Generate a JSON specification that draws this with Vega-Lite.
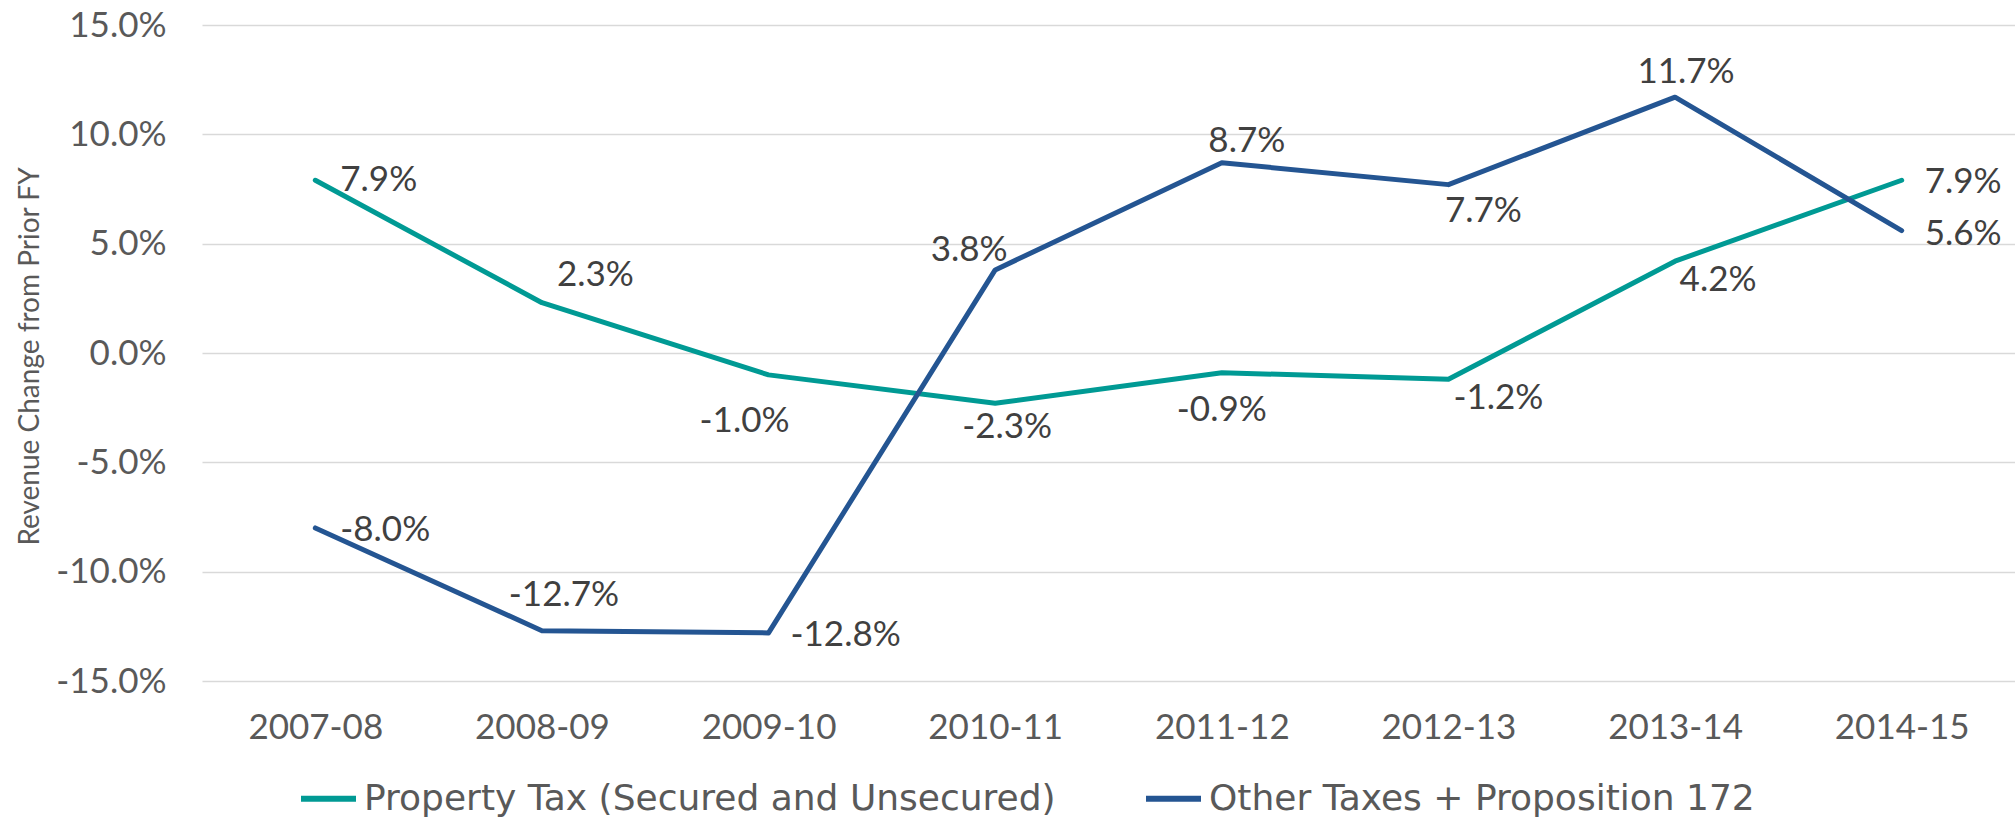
{
  "$schema": "https://vega.github.io/schema/vega-lite/v6.json",
  "width": 1813,
  "height": 656,
  "autosize": {"type": "none"},
  "padding": {"left": 202, "top": 25, "right": 0, "bottom": 138},
  "background": "white",
  "config": {
    "view": {"stroke": null},
    "font": "Lato",
    "axis": {"labelFont": "Lato", "titleFont": "Lato"},
    "legend": {"labelFont": "DejaVu Sans"}
  },
  "data": {
    "values": [
      {"year": "2007-08", "series": "Property Tax (Secured and Unsecured)", "value": 0.079},
      {"year": "2008-09", "series": "Property Tax (Secured and Unsecured)", "value": 0.023},
      {"year": "2009-10", "series": "Property Tax (Secured and Unsecured)", "value": -0.010},
      {"year": "2010-11", "series": "Property Tax (Secured and Unsecured)", "value": -0.023},
      {"year": "2011-12", "series": "Property Tax (Secured and Unsecured)", "value": -0.009},
      {"year": "2012-13", "series": "Property Tax (Secured and Unsecured)", "value": -0.012},
      {"year": "2013-14", "series": "Property Tax (Secured and Unsecured)", "value": 0.042},
      {"year": "2014-15", "series": "Property Tax (Secured and Unsecured)", "value": 0.079},
      {"year": "2007-08", "series": "Other Taxes + Proposition 172", "value": -0.080},
      {"year": "2008-09", "series": "Other Taxes + Proposition 172", "value": -0.127},
      {"year": "2009-10", "series": "Other Taxes + Proposition 172", "value": -0.128},
      {"year": "2010-11", "series": "Other Taxes + Proposition 172", "value": 0.038},
      {"year": "2011-12", "series": "Other Taxes + Proposition 172", "value": 0.087},
      {"year": "2012-13", "series": "Other Taxes + Proposition 172", "value": 0.077},
      {"year": "2013-14", "series": "Other Taxes + Proposition 172", "value": 0.117},
      {"year": "2014-15", "series": "Other Taxes + Proposition 172", "value": 0.056}
    ]
  },
  "transform": [
    {"calculate": "replace(format(datum.value, '.1%'), '\u2212', '-')", "as": "label"}
  ],
  "encoding": {
    "x": {
      "field": "year", "type": "ordinal",
      "scale": {"type": "point", "padding": 0.5},
      "axis": {
        "title": null, "labelAngle": 0, "labelFontSize": 35, "labelColor": "#595959",
        "domain": false, "ticks": false, "labelPadding": 29, "grid": false
      }
    },
    "y": {
      "field": "value", "type": "quantitative",
      "scale": {"domain": [-0.15, 0.15], "nice": false, "zero": false},
      "axis": {
        "title": "Revenue Change from Prior FY", "titleFontSize": 28, "titleFontWeight": "normal",
        "titleColor": "#595959", "titleX": -172, "titleY": 331, "titleAngle": -90,
        "titleAlign": "center", "titleBaseline": "middle",
        "values": [-0.15, -0.1, -0.05, 0, 0.05, 0.1, 0.15],
        "labelExpr": "replace(format(datum.value, '.1%'), '\u2212', '-')",
        "labelFontSize": 35, "labelColor": "#595959", "labelPadding": 36,
        "domain": false, "ticks": false,
        "grid": true, "gridColor": "#d9d9d9", "gridWidth": 1.5
      }
    }
  },
  "layer": [
    {
      "mark": {"type": "line", "strokeWidth": 5, "strokeJoin": "round", "strokeCap": "round"},
      "encoding": {
        "color": {
          "field": "series", "type": "nominal",
          "scale": {
            "domain": ["Property Tax (Secured and Unsecured)", "Other Taxes + Proposition 172"],
            "range": ["#009A94", "#245592"]
          },
          "legend": {
            "title": null, "orient": "none", "direction": "horizontal",
            "legendX": 96, "legendY": 743, "padding": 0,
            "symbolType": "stroke", "symbolSize": 3025, "symbolStrokeWidth": 6,
            "labelFontSize": 36, "labelColor": "#595959", "labelOffset": 5,
            "columnPadding": 78, "labelLimit": 1000
          }
        }
      }
    },
    {"transform": [{"filter": "datum.series[0]=='P' && datum.year=='2007-08'"}],
     "mark": {"type": "text", "fontSize": 35, "color": "#404040", "align": "left", "baseline": "middle", "dx": 25, "dy": 0},
     "encoding": {"text": {"field": "label"}}},
    {"transform": [{"filter": "datum.series[0]=='P' && datum.year=='2008-09'"}],
     "mark": {"type": "text", "fontSize": 35, "color": "#404040", "align": "left", "baseline": "middle", "dx": 15, "dy": -28},
     "encoding": {"text": {"field": "label"}}},
    {"transform": [{"filter": "datum.series[0]=='P' && datum.year=='2009-10'"}],
     "mark": {"type": "text", "fontSize": 35, "color": "#404040", "align": "center", "baseline": "middle", "dx": -24, "dy": 46},
     "encoding": {"text": {"field": "label"}}},
    {"transform": [{"filter": "datum.series[0]=='P' && datum.year=='2010-11'"}],
     "mark": {"type": "text", "fontSize": 35, "color": "#404040", "align": "center", "baseline": "middle", "dx": 12, "dy": 24},
     "encoding": {"text": {"field": "label"}}},
    {"transform": [{"filter": "datum.series[0]=='P' && datum.year=='2011-12'"}],
     "mark": {"type": "text", "fontSize": 35, "color": "#404040", "align": "center", "baseline": "middle", "dx": 0, "dy": 37},
     "encoding": {"text": {"field": "label"}}},
    {"transform": [{"filter": "datum.series[0]=='P' && datum.year=='2012-13'"}],
     "mark": {"type": "text", "fontSize": 35, "color": "#404040", "align": "center", "baseline": "middle", "dx": 50, "dy": 19},
     "encoding": {"text": {"field": "label"}}},
    {"transform": [{"filter": "datum.series[0]=='P' && datum.year=='2013-14'"}],
     "mark": {"type": "text", "fontSize": 35, "color": "#404040", "align": "center", "baseline": "middle", "dx": 43, "dy": 19},
     "encoding": {"text": {"field": "label"}}},
    {"transform": [{"filter": "datum.series[0]=='P' && datum.year=='2014-15'"}],
     "mark": {"type": "text", "fontSize": 35, "color": "#404040", "align": "left", "baseline": "middle", "dx": 23, "dy": 2},
     "encoding": {"text": {"field": "label"}}},
    {"transform": [{"filter": "datum.series[0]=='O' && datum.year=='2007-08'"}],
     "mark": {"type": "text", "fontSize": 35, "color": "#404040", "align": "left", "baseline": "middle", "dx": 25, "dy": 2},
     "encoding": {"text": {"field": "label"}}},
    {"transform": [{"filter": "datum.series[0]=='O' && datum.year=='2008-09'"}],
     "mark": {"type": "text", "fontSize": 35, "color": "#404040", "align": "center", "baseline": "middle", "dx": 22, "dy": -36},
     "encoding": {"text": {"field": "label"}}},
    {"transform": [{"filter": "datum.series[0]=='O' && datum.year=='2009-10'"}],
     "mark": {"type": "text", "fontSize": 35, "color": "#404040", "align": "left", "baseline": "middle", "dx": 22, "dy": 2},
     "encoding": {"text": {"field": "label"}}},
    {"transform": [{"filter": "datum.series[0]=='O' && datum.year=='2010-11'"}],
     "mark": {"type": "text", "fontSize": 35, "color": "#404040", "align": "center", "baseline": "middle", "dx": -26, "dy": -20},
     "encoding": {"text": {"field": "label"}}},
    {"transform": [{"filter": "datum.series[0]=='O' && datum.year=='2011-12'"}],
     "mark": {"type": "text", "fontSize": 35, "color": "#404040", "align": "center", "baseline": "middle", "dx": 25, "dy": -22},
     "encoding": {"text": {"field": "label"}}},
    {"transform": [{"filter": "datum.series[0]=='O' && datum.year=='2012-13'"}],
     "mark": {"type": "text", "fontSize": 35, "color": "#404040", "align": "center", "baseline": "middle", "dx": 35, "dy": 26},
     "encoding": {"text": {"field": "label"}}},
    {"transform": [{"filter": "datum.series[0]=='O' && datum.year=='2013-14'"}],
     "mark": {"type": "text", "fontSize": 35, "color": "#404040", "align": "center", "baseline": "middle", "dx": 11, "dy": -25},
     "encoding": {"text": {"field": "label"}}},
    {"transform": [{"filter": "datum.series[0]=='O' && datum.year=='2014-15'"}],
     "mark": {"type": "text", "fontSize": 35, "color": "#404040", "align": "left", "baseline": "middle", "dx": 23, "dy": 3},
     "encoding": {"text": {"field": "label"}}}
  ]
}
